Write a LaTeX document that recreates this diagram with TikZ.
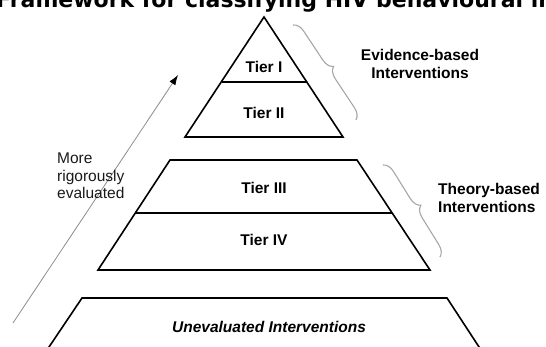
\documentclass[tikz,border=0pt]{standalone}
\usepackage{fontspec}
\setmainfont{Liberation Sans}
\newfontfamily\titlefont{DejaVu Sans}
\usetikzlibrary{arrows.meta,decorations.pathreplacing}

\begin{document}
\begin{tikzpicture}[x=1pt,y=-1pt]
  \tikzstyle{niveau}=[draw=black, line width=1.6pt, line join=miter]
  \tikzstyle{etiquette}=[inner sep=0pt, text=black,
  font=\bfseries\fontsize{15.5}{18}\selectfont]
  \tikzstyle{accolade}=[draw=gray!70, line width=1.1pt, decorate,
  decoration={brace, amplitude=11pt}]
  \tikzstyle{fleche}=[-{Latex[length=10pt,width=7pt,color=black]},
  draw=gray!90, line width=0.8pt]
  \useasboundingbox (0,0) rectangle (546,347);
  % titre coupe
  \node[anchor=base west, inner sep=0pt,
  font=\titlefont\bfseries\fontsize{22}{24}\selectfont] (titre) at (-4,8)
  {Framework for classifying HIV behavioural interventions};
  % pyramide
  \draw[niveau] (264,17) -- (343,137) -- (185,137) -- cycle;
  \draw[niveau] (222,82) -- (307,82);
  \draw[niveau] (170,160) -- (357,160) -- (430,270) -- (98,270) -- cycle;
  \draw[niveau] (136,213) -- (392,213);
  \draw[niveau] (47,350) -- (82,298) -- (447,298) -- (481,350);
  \foreach \n/\t/\y in {t1/Tier I/67,t2/Tier II/113,t3/Tier III/188,t4/Tier IV/240} {
    \node[etiquette] (\n) at (264,\y) {\t};
  }
  \node[etiquette, font=\bfseries\itshape\fontsize{15.5}{18}\selectfont]
  (nonevalue) at (269,327) {Unevaluated Interventions};
  % accolades
  \coordinate (a1) at (293,25);
  \coordinate (a2) at (356,120);
  \coordinate (b1) at (383,165);
  \coordinate (b2) at (440,257);
  \draw[accolade] (a1) -- (a2);
  \draw[accolade] (b1) -- (b2);
  \node[etiquette, align=center] (preuve) at (420,64)
  {Evidence-based\\Interventions};
  \node[etiquette, align=left, anchor=west] (theorie) at (438,198)
  {Theory-based\\Interventions};
  % fleche
  \coordinate (bas) at (13,323);
  \coordinate (haut) at (178,75);
  \draw[fleche] (bas) -- (haut);
  \node[anchor=west, align=left, inner sep=0pt, text=black!90,
  font=\fontsize{15.5}{17.5}\selectfont] (rigueur) at (57,176)
  {More\\rigorously\\evaluated};
\end{tikzpicture}
\end{document}
